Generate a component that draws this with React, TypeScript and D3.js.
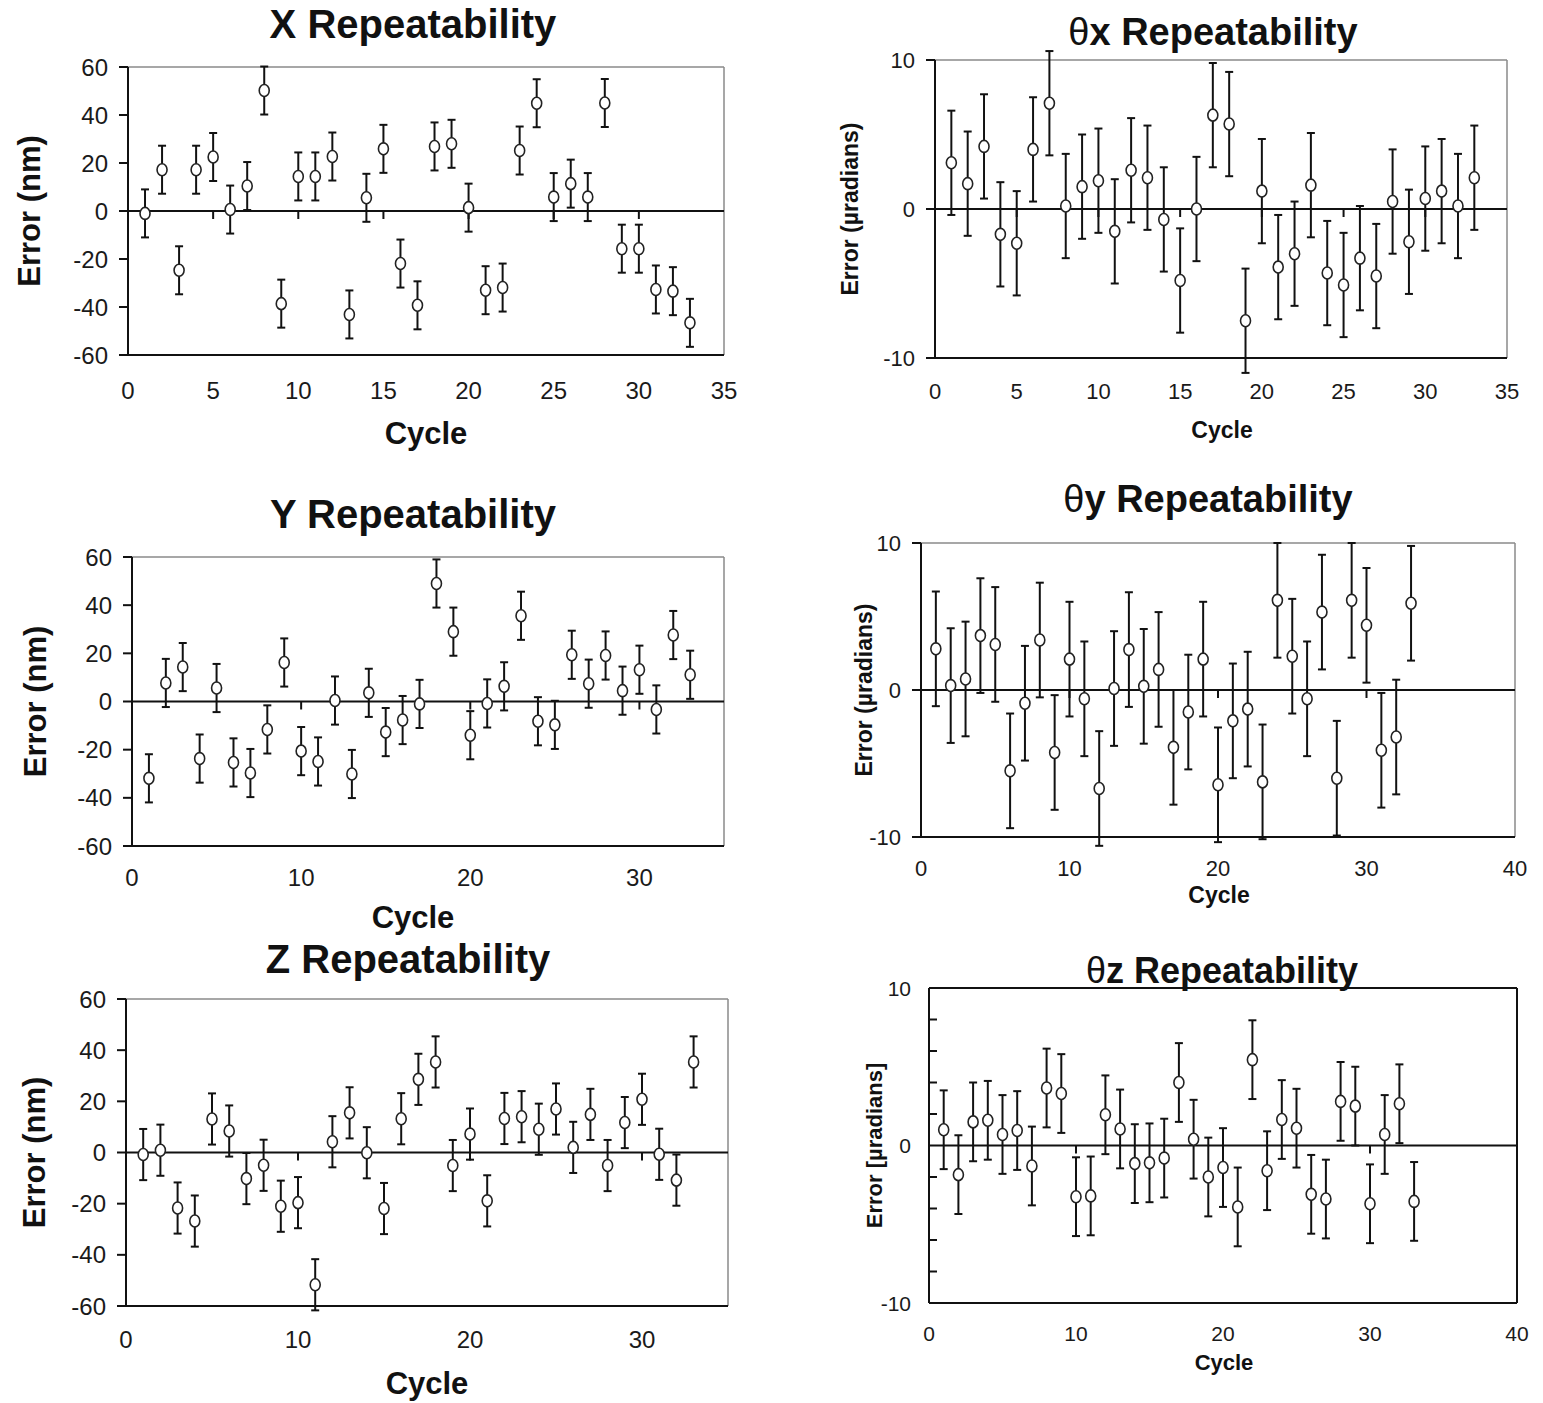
import { useEffect, useRef } from "react";
import * as d3 from "d3";

// cycle numbers shared by all six plots
const cycles = [1, 2, 3, 4, 5, 6, 7, 8, 9, 10, 11, 12, 13, 14, 15, 16, 17, 18, 19, 20, 21, 22, 23, 24, 25, 26, 27, 28, 29, 30, 31, 32, 33];

// errors in nm
const xError = [-1, 17.2, -24.7, 17.2, 22.5, 0.6, 10.4, 50.2, -38.6, 14.4, 14.4, 22.7, -43.1, 5.5, 25.9, -21.9, -39.3, 26.9, 28, 1.4, -33, -31.9, 25.2, 44.9, 5.8, 11.4, 5.8, 45, -15.7, -15.7, -32.7, -33.4, -46.6];
const yError = [-31.9, 7.7, 14.3, -23.7, 5.6, -25.3, -29.7, -11.6, 16.2, -20.6, -24.9, 0.4, -30.1, 3.6, -12.7, -7.7, -1, 49, 29, -14, -0.8, 6.3, 35.6, -8.2, -9.7, 19.4, 7.4, 19.1, 4.5, 13.2, -3.3, 27.6, 11.1];
const zError = [-0.8, 0.9, -21.7, -26.8, 13.1, 8.4, -10.2, -5, -21, -19.6, -51.7, 4.2, 15.5, -0.1, -21.9, 13.2, 28.6, 35.4, -5.1, 7.2, -18.9, 13.3, 14, 9.1, 17, 2, 14.9, -5.1, 11.7, 20.8, -0.7, -10.8, 35.4];

// errors in microradians
const thetaXError = [3.1, 1.7, 4.2, -1.7, -2.3, 4.0, 7.1, 0.2, 1.5, 1.9, -1.5, 2.6, 2.1, -0.7, -4.8, 0, 6.3, 5.7, -7.5, 1.2, -3.9, -3.0, 1.6, -4.3, -5.1, -3.3, -4.5, 0.5, -2.2, 0.7, 1.2, 0.2, 2.1];
const thetaYError = [2.8, 0.3, 0.75, 3.7, 3.1, -5.5, -0.9, 3.4, -4.25, 2.1, -0.6, -6.7, 0.1, 2.75, 0.25, 1.4, -3.9, -1.5, 2.1, -6.45, -2.1, -1.3, -6.25, 6.1, 2.3, -0.6, 5.3, -6.0, 6.1, 4.4, -4.1, -3.2, 5.9];
const thetaZError = [1.0, -1.85, 1.5, 1.6, 0.7, 0.95, -1.3, 3.65, 3.3, -3.25, -3.2, 1.95, 1.05, -1.15, -1.1, -0.8, 4.0, 0.4, -2.0, -1.4, -3.9, 5.45, -1.6, 1.65, 1.1, -3.1, -3.4, 2.8, 2.5, -3.7, 0.7, 2.65, -3.55];

// half-length of the error bars
const barNm = 10;
const barThetaX = 3.5;
const barThetaY = 3.9;
const barThetaZ = 2.5;

// axis ticks
const nmTicks = [-60, -40, -20, 0, 20, 40, 60];
const radTicks = [-10, 0, 10];
const radMinorTicks = [-8, -6, -4, -2, 2, 4, 6, 8];
const cycleTicks35by5 = [0, 5, 10, 15, 20, 25, 30, 35];
const cycleTicks35by10 = [0, 10, 20, 30];
const cycleTicks40 = [0, 10, 20, 30, 40];

const FONT = "'Liberation Sans', Arial, Helvetica, sans-serif";

const panels = [
  {
    greek: "", title: "X Repeatability", yLabel: "Error (nm)", values: xError, bar: barNm,
    yDomain: [-60, 60], yTicks: nmTicks, xMax: 35, xTicks: cycleTicks35by5,
    left: 128, right: 724, top: 67, bottom: 355,
    titleX: 413, titleY: 38, titleSize: 40,
    yLabelX: 40, yLabelSize: 31, tickSize: 24, xLabelY: 399, cycleY: 444, cycleX: 426, cycleSize: 31,
  },
  {
    greek: "θ", title: "x Repeatability", yLabel: "Error (µradians)", values: thetaXError, bar: barThetaX,
    yDomain: [-10, 10], yTicks: radTicks, xMax: 35, xTicks: cycleTicks35by5,
    left: 935, right: 1507, top: 60, bottom: 358,
    titleX: 1213, titleY: 45, titleSize: 38,
    yLabelX: 858, yLabelSize: 23, tickSize: 22, xLabelY: 399, cycleY: 438, cycleX: 1222, cycleSize: 23,
  },
  {
    greek: "", title: "Y Repeatability", yLabel: "Error (nm)", values: yError, bar: barNm,
    yDomain: [-60, 60], yTicks: nmTicks, xMax: 35, xTicks: cycleTicks35by10,
    left: 132, right: 724, top: 557, bottom: 846,
    titleX: 413, titleY: 528, titleSize: 40,
    yLabelX: 46, yLabelSize: 31, tickSize: 24, xLabelY: 886, cycleY: 928, cycleX: 413, cycleSize: 31,
  },
  {
    greek: "θ", title: "y Repeatability", yLabel: "Error (µradians)", values: thetaYError, bar: barThetaY,
    yDomain: [-10, 10], yTicks: radTicks, xMax: 40, xTicks: cycleTicks40,
    left: 921, right: 1515, top: 543, bottom: 837,
    titleX: 1208, titleY: 512, titleSize: 38,
    yLabelX: 872, yLabelSize: 23, tickSize: 22, xLabelY: 876, cycleY: 903, cycleX: 1219, cycleSize: 23,
  },
  {
    greek: "", title: "Z Repeatability", yLabel: "Error (nm)", values: zError, bar: barNm,
    yDomain: [-60, 60], yTicks: nmTicks, xMax: 35, xTicks: cycleTicks35by10,
    left: 126, right: 728, top: 999, bottom: 1306,
    titleX: 408, titleY: 973, titleSize: 40,
    yLabelX: 45, yLabelSize: 31, tickSize: 24, xLabelY: 1348, cycleY: 1394, cycleX: 427, cycleSize: 31,
  },
  {
    greek: "θ", title: "z Repeatability", yLabel: "Error [µradians]", values: thetaZError, bar: barThetaZ,
    yDomain: [-10, 10], yTicks: radTicks, xMax: 40, xTicks: cycleTicks40, minor: radMinorTicks,
    left: 929, right: 1517, top: 988, bottom: 1303,
    titleX: 1222, titleY: 983, titleSize: 36,
    yLabelX: 882, yLabelSize: 22, tickSize: 21, xLabelY: 1341, cycleY: 1370, cycleX: 1224, cycleSize: 22,
  },
];

function drawPanel(svg, p) {
  const x = d3.scaleLinear().domain([0, p.xMax]).range([p.left, p.right]);
  const y = d3.scaleLinear().domain(p.yDomain).range([p.bottom, p.top]);
  const g = svg.append("g");
  const boxed = !!p.minor;

  // plot area border (top/right light unless boxed)
  g.append("line").attr("x1", p.left).attr("x2", p.right).attr("y1", p.top).attr("y2", p.top)
    .attr("stroke", boxed ? "#111" : "#8a8a8a").attr("stroke-width", boxed ? 2 : 1.5);
  g.append("line").attr("x1", p.right).attr("x2", p.right).attr("y1", p.top).attr("y2", p.bottom)
    .attr("stroke", boxed ? "#111" : "#8a8a8a").attr("stroke-width", boxed ? 2 : 1.5);
  g.append("line").attr("x1", p.left).attr("x2", p.right).attr("y1", p.bottom).attr("y2", p.bottom)
    .attr("stroke", "#111").attr("stroke-width", 2);
  g.append("line").attr("x1", p.left).attr("x2", p.left).attr("y1", p.top).attr("y2", p.bottom)
    .attr("stroke", "#111").attr("stroke-width", 2);

  // y ticks
  if (boxed) {
    g.selectAll(".minor").data(p.minor).enter().append("line")
      .attr("x1", p.left).attr("x2", p.left + 8)
      .attr("y1", d => y(d)).attr("y2", d => y(d))
      .attr("stroke", "#111").attr("stroke-width", 2);
  } else {
    g.selectAll(".ytick").data(p.yTicks).enter().append("line")
      .attr("x1", p.left - 9).attr("x2", p.left)
      .attr("y1", d => y(d)).attr("y2", d => y(d))
      .attr("stroke", "#111").attr("stroke-width", 2);
  }
  g.selectAll(".ylab").data(p.yTicks).enter().append("text")
    .attr("x", p.left - (boxed ? 18 : 20)).attr("y", d => y(d))
    .attr("dy", "0.36em").attr("text-anchor", "end")
    .attr("font-family", FONT).attr("font-size", p.tickSize).attr("fill", "#1a1a1a")
    .text(d => d);

  // zero line with cycle ticks
  g.append("line").attr("x1", p.left).attr("x2", p.right).attr("y1", y(0)).attr("y2", y(0))
    .attr("stroke", "#111").attr("stroke-width", 2.2);
  g.selectAll(".xtick").data(p.xTicks.filter(d => d > 0 && d < p.xMax)).enter().append("line")
    .attr("x1", d => x(d)).attr("x2", d => x(d))
    .attr("y1", y(0)).attr("y2", y(0) + 8)
    .attr("stroke", "#111").attr("stroke-width", 2);
  g.selectAll(".xlab").data(p.xTicks).enter().append("text")
    .attr("x", d => x(d)).attr("y", p.xLabelY).attr("text-anchor", "middle")
    .attr("font-family", FONT).attr("font-size", p.tickSize).attr("fill", "#1a1a1a")
    .text(d => d);

  // error bars
  const pts = cycles.map((c, i) => ({ c, v: p.values[i] }));
  const eb = g.append("g").attr("stroke", "#111").attr("stroke-width", 2);
  eb.selectAll(".stem").data(pts).enter().append("line")
    .attr("x1", d => x(d.c)).attr("x2", d => x(d.c))
    .attr("y1", d => y(d.v - p.bar)).attr("y2", d => y(d.v + p.bar));
  eb.selectAll(".capTop").data(pts).enter().append("line")
    .attr("x1", d => x(d.c) - 4).attr("x2", d => x(d.c) + 4)
    .attr("y1", d => y(d.v + p.bar)).attr("y2", d => y(d.v + p.bar));
  eb.selectAll(".capBot").data(pts).enter().append("line")
    .attr("x1", d => x(d.c) - 4).attr("x2", d => x(d.c) + 4)
    .attr("y1", d => y(d.v - p.bar)).attr("y2", d => y(d.v - p.bar));

  // markers
  g.selectAll(".pt").data(pts).enter().append("ellipse")
    .attr("cx", d => x(d.c)).attr("cy", d => y(d.v))
    .attr("rx", 5).attr("ry", 6)
    .attr("fill", "#fff").attr("stroke", "#222").attr("stroke-width", 1.6);

  // title
  const t = g.append("text").attr("x", p.titleX).attr("y", p.titleY).attr("text-anchor", "middle")
    .attr("font-family", FONT).attr("font-size", p.titleSize).attr("fill", "#111");
  if (p.greek) t.append("tspan").attr("font-weight", "normal").text(p.greek);
  t.append("tspan").attr("font-weight", "bold").text(p.title);

  // axis labels
  g.append("text")
    .attr("transform", `translate(${p.yLabelX},${(p.top + p.bottom) / 2}) rotate(-90)`)
    .attr("text-anchor", "middle").attr("font-family", FONT).attr("font-weight", "bold")
    .attr("font-size", p.yLabelSize).attr("fill", "#111")
    .text(p.yLabel);
  g.append("text").attr("x", p.cycleX).attr("y", p.cycleY).attr("text-anchor", "middle")
    .attr("font-family", FONT).attr("font-weight", "bold")
    .attr("font-size", p.cycleSize).attr("fill", "#111")
    .text("Cycle");
}

export default function App() {
  const ref = useRef(null);

  useEffect(() => {
    const svg = d3.select(ref.current);
    svg.selectAll("*").remove();
    svg.append("rect").attr("width", 1543).attr("height", 1403).attr("fill", "#fff");
    panels.forEach(p => drawPanel(svg, p));
  }, []);

  return (
    <svg ref={ref} width={1543} height={1403}
      style={{ position: "absolute", left: 0, top: 0, display: "block" }} />
  );
}
